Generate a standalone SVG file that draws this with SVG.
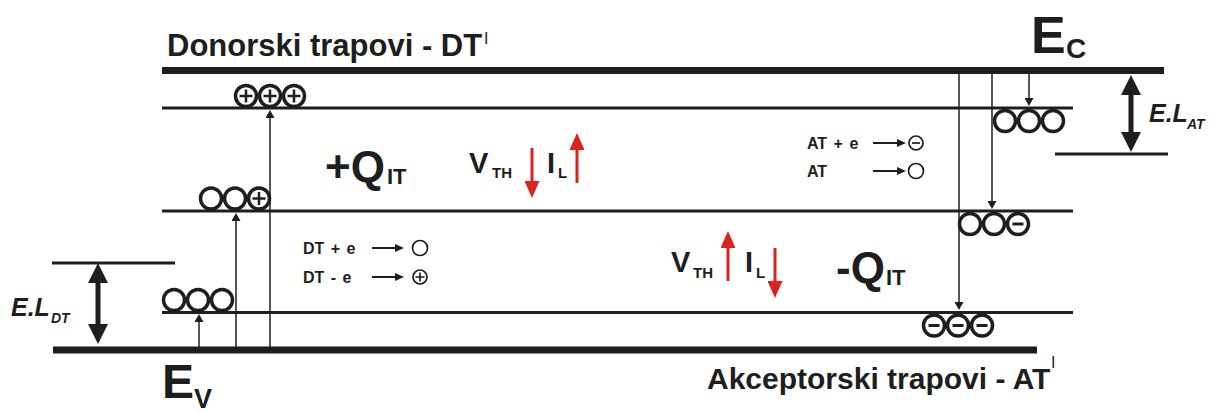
<svg xmlns="http://www.w3.org/2000/svg" width="1220" height="412" viewBox="0 0 1220 412">
<style>
.t{font-family:"Liberation Sans",Arial,sans-serif;font-weight:bold;fill:#1e1e1e}
.n{font-weight:normal}
.i{font-style:italic}
.lgt{font-size:16px;word-spacing:2px}
.thick{stroke:#1e1e1e;stroke-width:7;fill:none}
.thin{stroke:#1e1e1e;stroke-width:3;fill:none}
.c{fill:none;stroke:#1e1e1e;stroke-width:3.5}
.sg{stroke:#1e1e1e;stroke-width:2.5}
.sc{fill:none;stroke:#1e1e1e;stroke-width:1.7}
.ar{stroke:#1e1e1e;stroke-width:1.5;fill:none}
.lg{stroke:#1e1e1e;stroke-width:2;fill:none}
.dbl{stroke:#1e1e1e;stroke-width:5;fill:none}
.red{stroke:#d8231f;stroke-width:3;fill:none}
</style>
<defs>
<marker id="ah" markerUnits="userSpaceOnUse" markerWidth="8" markerHeight="9" viewBox="0 0 8 9" refX="0" refY="4.5" orient="auto"><path d="M0,0 L8,4.5 L0,9 z" fill="#1e1e1e"/></marker>
<marker id="ahl" markerUnits="userSpaceOnUse" markerWidth="9" markerHeight="8" viewBox="0 0 9 8" refX="0" refY="4" orient="auto"><path d="M0,0 L9,4 L0,8 z" fill="#1e1e1e"/></marker>
<marker id="big" markerUnits="userSpaceOnUse" markerWidth="20" markerHeight="20" viewBox="0 0 20 20" refX="1" refY="10" orient="auto-start-reverse"><path d="M0,0 L20,10 L0,20 z" fill="#1e1e1e"/></marker>
<marker id="rh" markerUnits="userSpaceOnUse" markerWidth="17" markerHeight="15" viewBox="0 0 17 15" refX="1" refY="7.5" orient="auto"><path d="M0,0 L17,7.5 L0,15 z" fill="#d8231f"/></marker>
<g id="o"><circle r="10.5" class="c"/></g>
<g id="op"><circle r="10.5" class="c"/><path d="M-6.5,0 H6.5 M0,-6.5 V6.5" class="sg"/></g>
<g id="om"><circle r="10.5" class="c"/><path d="M-5.5,0 H5.5" class="sg" style="stroke-width:3"/></g>
</defs>

<g id="levels">
<line class="thick" x1="162" y1="70.5" x2="1164" y2="70.5"/>
<line class="thick" x1="53" y1="350" x2="1037" y2="350"/>
<line class="thin" x1="162" y1="108" x2="1073" y2="108"/>
<line class="thin" x1="162" y1="211" x2="1073" y2="211"/>
<line class="thin" x1="162" y1="312.5" x2="1073" y2="312.5"/>
<line class="thin" x1="52" y1="263" x2="175" y2="263"/>
<line class="thin" x1="1055" y1="154" x2="1168" y2="154"/>
</g>

<g id="connectors">
<line class="ar" x1="199" y1="347" x2="199" y2="322" marker-end="url(#ah)"/>
<line class="ar" x1="236" y1="347" x2="236" y2="221" marker-end="url(#ah)"/>
<line class="ar" x1="270" y1="347" x2="270" y2="118" marker-end="url(#ah)"/>
<line class="ar" x1="959" y1="74" x2="959" y2="302" marker-end="url(#ah)"/>
<line class="ar" x1="992" y1="74" x2="992" y2="201" marker-end="url(#ah)"/>
<line class="ar" x1="1029" y1="74" x2="1029" y2="98" marker-end="url(#ah)"/>
<line class="dbl" x1="98" y1="282" x2="98" y2="325" marker-start="url(#big)" marker-end="url(#big)"/>
<line class="dbl" x1="1131" y1="94" x2="1131" y2="133" marker-start="url(#big)" marker-end="url(#big)"/>
<line class="red" x1="532" y1="148" x2="532" y2="182" marker-end="url(#rh)"/>
<line class="red" x1="577" y1="183" x2="577" y2="149" marker-end="url(#rh)"/>
<line class="red" x1="728" y1="281" x2="728" y2="247" marker-end="url(#rh)"/>
<line class="red" x1="775" y1="248" x2="775" y2="282" marker-end="url(#rh)"/>
</g>

<g id="donor-top">
<use href="#op" x="246" y="96"/><use href="#op" x="270" y="96"/><use href="#op" x="294" y="96"/>
</g>
<g id="donor-mid">
<use href="#o" x="211" y="198.5"/><use href="#o" x="235" y="198.5"/><use href="#op" x="259" y="198.5"/>
</g>
<g id="donor-low">
<use href="#o" x="174" y="300"/><use href="#o" x="198" y="300"/><use href="#o" x="222" y="300"/>
</g>
<g id="acceptor-top">
<use href="#o" x="1005" y="121"/><use href="#o" x="1029" y="121"/><use href="#o" x="1053" y="121"/>
</g>
<g id="acceptor-mid">
<use href="#o" x="970" y="224"/><use href="#o" x="994" y="224"/><use href="#om" x="1018" y="224"/>
</g>
<g id="acceptor-low">
<use href="#om" x="934" y="325.5"/><use href="#om" x="958" y="325.5"/><use href="#om" x="982" y="325.5"/>
</g>

<g id="titles">
<text class="t" x="167" y="56" font-size="31">Donorski trapovi - DT</text>
<text class="t n" x="484" y="44" font-size="16">I</text>
<text class="t" x="707" y="389" font-size="30">Akceptorski trapovi - AT</text>
<text class="t n" x="1051" y="368" font-size="16">I</text>
<text class="t" x="1031" y="53" font-size="52">E</text>
<text class="t" x="1066" y="58" font-size="28">C</text>
<text class="t" x="162" y="398" font-size="48">E</text>
<text class="t" x="194" y="408" font-size="27">V</text>
</g>

<g id="energy-levels-labels">
<text class="t i" x="11" y="316" font-size="25">E.L</text>
<text class="t i" x="51" y="323" font-size="14">DT</text>
<text class="t i" x="1149" y="122" font-size="25">E.L</text>
<text class="t i" x="1187" y="129" font-size="14">AT</text>
</g>

<g id="charge-labels">
<text class="t" x="325" y="182" font-size="44">+Q</text>
<text class="t" x="387" y="184" font-size="22">IT</text>
<text class="t" x="469" y="173" font-size="29">V</text>
<text class="t" x="492" y="178" font-size="15">TH</text>
<text class="t" x="547" y="173" font-size="29">I</text>
<text class="t" x="558" y="178" font-size="15">L</text>
<text class="t" x="671" y="272" font-size="29">V</text>
<text class="t" x="693" y="278" font-size="15">TH</text>
<text class="t" x="745" y="272" font-size="29">I</text>
<text class="t" x="756" y="278" font-size="15">L</text>
<text class="t" x="836" y="283" font-size="44">-Q</text>
<text class="t" x="886" y="285" font-size="22">IT</text>
</g>

<g id="legend-dt">
<text class="t lgt" x="303" y="254">DT + e</text>
<line class="lg" x1="372" y1="248" x2="395" y2="248" marker-end="url(#ahl)"/>
<circle class="sc" cx="420" cy="248" r="7.5"/>
<text class="t lgt" x="303" y="283">DT - e</text>
<line class="lg" x1="372" y1="277" x2="395" y2="277" marker-end="url(#ahl)"/>
<circle class="sc" cx="420" cy="277" r="7"/>
<path d="M415.5,277 H424.5 M420,272.5 V281.5" class="sc"/>
</g>

<g id="legend-at">
<text class="t lgt" x="807" y="149">AT + e</text>
<line class="lg" x1="873" y1="143" x2="897" y2="143" marker-end="url(#ahl)"/>
<circle class="sc" cx="916" cy="143" r="7"/>
<path d="M912,143 H920" class="sc"/>
<text class="t lgt" x="807" y="177">AT</text>
<line class="lg" x1="873" y1="171" x2="897" y2="171" marker-end="url(#ahl)"/>
<circle class="sc" cx="916" cy="171" r="7.5"/>
</g>
</svg>
